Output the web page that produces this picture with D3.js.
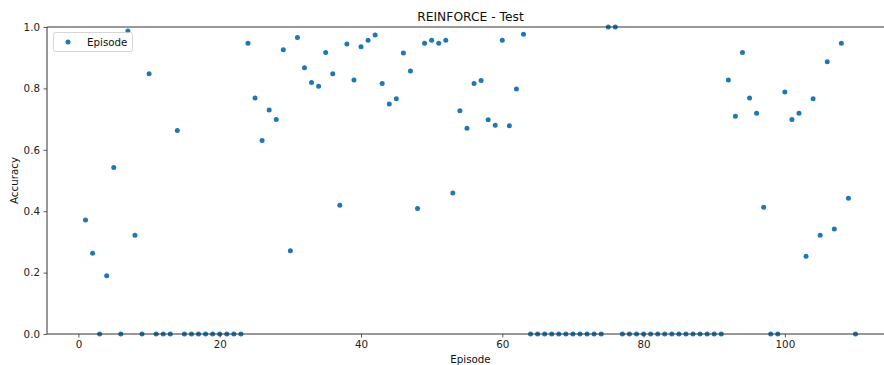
<!DOCTYPE html>
<html><head><meta charset="utf-8">
<script src="https://cdn.jsdelivr.net/npm/d3@7"></script>
<style>body{margin:0;background:#fff}svg{display:block;font-family:"DejaVu Sans",sans-serif}</style>
</head><body><div id="chart"></div>
<script>
const episodes = d3.range(1, 111);
const accuracy = [
0.371,0.263,0,0.19,0.542,0,0.987,0.322,0,0.848,
0,0,0,0.663,0,0,0,0,0,0,
0,0,0,0.947,0.769,0.63,0.73,0.699,0.926,0.271,
0.966,0.867,0.819,0.807,0.917,0.848,0.419,0.945,0.827,0.936,
0.957,0.974,0.816,0.749,0.766,0.915,0.857,0.409,0.947,0.957,
0.947,0.957,0.459,0.727,0.67,0.816,0.826,0.698,0.68,0.957,
0.678,0.798,0.976,0,0,0,0,0,0,0,
0,0,0,0,1.0,1.0,0,0,0,0,
0,0,0,0,0,0,0,0,0,0,
0,0.827,0.709,0.917,0.769,0.719,0.413,0,0,0.788,
0.699,0.719,0.253,0.766,0.322,0.887,0.342,0.947,0.442,0
];
const xTicks = [0,20,40,60,80,100];
const yTicks = [0,0.2,0.4,0.6,0.8,1.0];
const title = "REINFORCE - Test", xLabel = "Episode", yLabel = "Accuracy", legendLabel = "Episode";

const W = 884, H = 365;
const m = {left:47, right:894, top:27, bottom:334};
const svg = d3.select("#chart").append("svg").attr("width",W).attr("height",H);
const x = d3.scaleLinear().domain([-4.45,115.45]).range([m.left,m.right]);
const y = d3.scaleLinear().domain([0,1]).range([m.bottom,m.top]);

svg.append("clipPath").attr("id","clip").append("rect")
  .attr("x",m.left).attr("y",m.top-3).attr("width",m.right-m.left).attr("height",m.bottom-m.top+6);

svg.append("g").attr("clip-path","url(#clip)").selectAll("circle").data(episodes).join("circle")
  .attr("cx",(d)=>x(d)).attr("cy",(d,i)=>y(accuracy[i])).attr("r",2.5).attr("fill","#1f77b4");

const xAxis = svg.append("g").attr("transform",`translate(0,${m.bottom})`)
  .call(d3.axisBottom(x).tickValues(xTicks).tickSize(3.5).tickPadding(3.5).tickFormat(d3.format("d")));
const yAxis = svg.append("g").attr("transform",`translate(${m.left},0)`)
  .call(d3.axisLeft(y).tickValues(yTicks).tickSize(3.5).tickPadding(3.5).tickFormat(d3.format(".1f")));
[xAxis,yAxis].forEach(a=>{
  a.select(".domain").remove();
  a.selectAll("text").attr("font-size",10.3).attr("fill","#222").attr("font-family","DejaVu Sans");
  a.selectAll("line").attr("stroke","#333").attr("stroke-width",0.8);
});
svg.append("line").attr("x1",m.left).attr("x2",m.right).attr("y1",m.bottom).attr("y2",m.bottom).attr("stroke","#333").attr("stroke-width",1);
svg.append("line").attr("x1",m.left).attr("x2",m.right).attr("y1",m.top).attr("y2",m.top).attr("stroke","#333").attr("stroke-width",1);
svg.append("line").attr("x1",m.left).attr("x2",m.left).attr("y1",m.top).attr("y2",m.bottom).attr("stroke","#333").attr("stroke-width",1);

svg.append("text").attr("x",(m.left+m.right)/2).attr("y",21).attr("text-anchor","middle")
  .attr("font-size",12.3).attr("fill","#111").text(title);
svg.append("text").attr("x",(m.left+m.right)/2).attr("y",363).attr("text-anchor","middle")
  .attr("font-size",10.3).attr("fill","#111").text(xLabel);
svg.append("text").attr("transform",`translate(18,${(m.top+m.bottom)/2}) rotate(-90)`).attr("text-anchor","middle")
  .attr("font-size",10.3).attr("fill","#111").text(yLabel);

const lg = svg.append("g");
lg.append("rect").attr("x",53.5).attr("y",32.5).attr("width",79).attr("height",19).attr("rx",2)
  .attr("fill","#fff").attr("fill-opacity",0.8).attr("stroke","#ccc").attr("stroke-width",0.8);
lg.append("circle").attr("cx",68).attr("cy",42).attr("r",2.5).attr("fill","#1f77b4");
lg.append("text").attr("x",87).attr("y",45.8).attr("font-size",10.3).attr("fill","#111").text(legendLabel);
</script></body></html>
